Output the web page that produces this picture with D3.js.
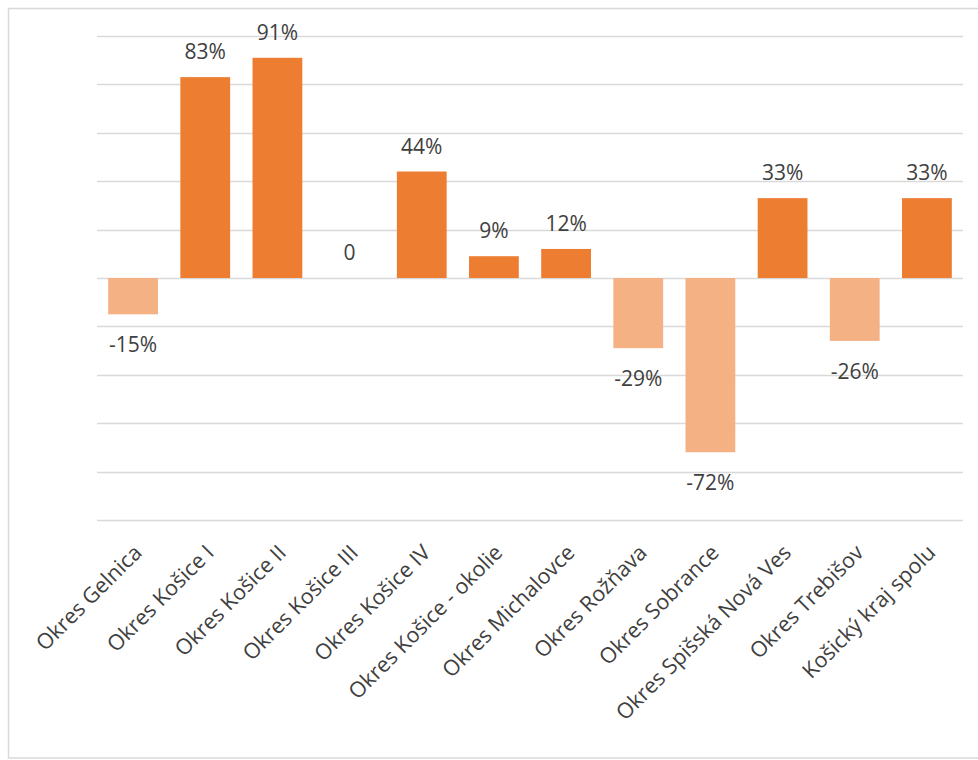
<!DOCTYPE html>
<html>
<head>
<meta charset="utf-8">
<script src="https://cdn.jsdelivr.net/npm/d3@7"></script>
<style>
  html, body { margin: 0; padding: 0; background: #fff; }
  svg { display: block; }
</style>
</head>
<body>
<svg id="chart" width="978" height="760"></svg>
<script>
const categories = [
  "Okres Gelnica", "Okres Košice I", "Okres Košice II", "Okres Košice III",
  "Okres Košice IV", "Okres Košice - okolie", "Okres Michalovce", "Okres Rožňava",
  "Okres Sobrance", "Okres Spišská Nová Ves", "Okres Trebišov", "Košický kraj spolu"
];
const values = [-15, 83, 91, 0, 44, 9, 12, -29, -72, 33, -26, 33];
const valueLabels = ["-15%", "83%", "91%", "0", "44%", "9%", "12%", "-29%", "-72%", "33%", "-26%", "33%"];
const gridTicks = [-100, -80, -60, -40, -20, 0, 20, 40, 60, 80, 100];

const svg = d3.select("#chart");
const font = "'Open Sans', 'DejaVu Sans', sans-serif";

// outer frame
svg.append("rect")
  .attr("x", 8.5).attr("y", 8.5)
  .attr("width", 975).attr("height", 749.5)
  .attr("fill", "#fff")
  .attr("stroke", "#d9d9d9").attr("stroke-width", 1.5);

const left = 97, right = 963;
const x = d3.scaleBand().domain(categories).range([left, right]).paddingInner(0.31).paddingOuter(0.155);
const y = d3.scaleLinear().domain([-100, 100]).range([520, 36]);

// gridlines
svg.append("g")
  .selectAll("line")
  .data(gridTicks)
  .join("line")
  .attr("x1", left).attr("x2", right)
  .attr("y1", d => Math.round(y(d)) + 0.5)
  .attr("y2", d => Math.round(y(d)) + 0.5)
  .attr("stroke", "#d9d9d9").attr("stroke-width", 1.5);

// bars
svg.append("g")
  .selectAll("rect")
  .data(values)
  .join("rect")
  .attr("x", (d, i) => x(categories[i]))
  .attr("width", x.bandwidth())
  .attr("y", d => y(Math.max(0, d)))
  .attr("height", d => Math.abs(y(d) - y(0)))
  .attr("fill", d => d >= 0 ? "#ED7D31" : "#F4B183");

// value labels
svg.append("g")
  .selectAll("text")
  .data(values)
  .join("text")
  .attr("x", (d, i) => x(categories[i]) + x.bandwidth() / 2)
  .attr("y", d => d >= 0 ? y(d) - 18 : y(d) + 38)
  .attr("text-anchor", "middle")
  .attr("font-family", font)
  .attr("font-size", 21)
  .attr("fill", "#404040")
  .text((d, i) => valueLabels[i]);

// category axis labels
svg.append("g")
  .selectAll("text")
  .data(categories)
  .join("text")
  .attr("transform", d => `translate(${x(d) + x.bandwidth() / 2 + 10},${554}) rotate(-45)`)
  .attr("text-anchor", "end")
  .attr("font-family", font)
  .attr("font-size", 21.5)
  .attr("fill", "#404040")
  .text(d => d);
</script>
</body>
</html>
